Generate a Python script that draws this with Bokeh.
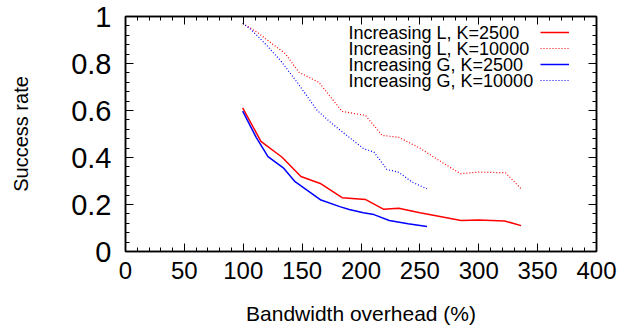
from bokeh.plotting import figure
from bokeh.models import (LinearAxis, SingleIntervalTicker, Range1d, Legend, LegendItem, Label)
from bokeh.embed import file_html
from bokeh.resources import INLINE

# ---- data ----
l2500_x = [99.5, 115, 133, 149, 166, 184, 204, 219, 232, 250, 267, 285, 300, 322, 336]
l2500_y = [0.611, 0.469, 0.401, 0.319, 0.288, 0.229, 0.221, 0.180, 0.184, 0.165, 0.149, 0.132, 0.134, 0.130, 0.110]

l10000_x = [99.6, 111.8, 123, 135.9, 147.2, 164.2, 184, 203.8, 218, 232, 250, 267, 284.5, 300, 322.7, 336]
l10000_y = [0.971, 0.933, 0.890, 0.841, 0.763, 0.720, 0.596, 0.579, 0.494, 0.486, 0.440, 0.385, 0.331, 0.338, 0.335, 0.267]

g2500_x = [99.5, 111, 121, 134, 144, 166, 182, 190, 202, 211, 224, 240, 256]
g2500_y = [0.597, 0.486, 0.404, 0.356, 0.297, 0.219, 0.191, 0.179, 0.165, 0.157, 0.132, 0.118, 0.106]

g10000_x = [99.6, 106, 117.5, 131.6, 145.8, 162.8, 174, 182.6, 195.3, 202.4, 211, 222, 232, 243.5, 256]
g10000_y = [0.971, 0.947, 0.890, 0.813, 0.720, 0.600, 0.550, 0.515, 0.465, 0.437, 0.423, 0.349, 0.337, 0.295, 0.267]

series_labels = ["Increasing L, K=2500", "Increasing L, K=10000",
                 "Increasing G, K=2500", "Increasing G, K=10000"]
x_title = "Bandwidth overhead (%)"
y_title = "Success rate"

FONT = "Liberation Sans"

p = figure(width=634, height=333, output_backend="svg", toolbar_location=None,
           x_range=Range1d(0, 400), y_range=Range1d(0, 1),
           x_axis_type=None, y_axis_type=None,
           min_border_left=125, min_border_right=38, min_border_top=16, min_border_bottom=82)
p.xgrid.visible = False
p.ygrid.visible = False
p.outline_line_color = "black"
p.outline_line_width = 1.5
p.background_fill_color = "white"
p.border_fill_color = "white"

def style_axis(ax, show_labels):
    ax.major_tick_in = 8
    ax.major_tick_out = 0
    ax.minor_tick_in = 4
    ax.minor_tick_out = 0
    ax.axis_line_color = "black"
    ax.axis_line_width = 1.5
    ax.major_tick_line_color = "black"
    ax.minor_tick_line_color = "black"
    ax.major_tick_line_width = 1
    ax.minor_tick_line_width = 1
    ax.major_label_text_color = "black"
    ax.axis_label_text_color = "black"
    if not show_labels:
        ax.major_label_text_font_size = "0px"
        ax.major_label_text_color = None

xt = SingleIntervalTicker(interval=50, num_minor_ticks=5)
yt = SingleIntervalTicker(interval=0.2, num_minor_ticks=5)

xb = LinearAxis(ticker=xt, axis_label=x_title)
style_axis(xb, True)
xb.major_label_text_font = FONT
xb.major_label_text_font_size = "24px"
xb.major_label_standoff = 10
xb.axis_label_text_font = FONT
xb.axis_label_text_font_size = "21px"
xb.axis_label_text_font_style = "normal"
xb.axis_label_standoff = 20
p.add_layout(xb, "below")

yl = LinearAxis(ticker=yt, axis_label=y_title)
style_axis(yl, True)
yl.major_label_text_font = FONT
yl.major_label_text_font_size = "29px"
yl.major_label_standoff = 14
yl.axis_label_text_font = FONT
yl.axis_label_text_font_size = "20px"
yl.axis_label_text_font_style = "normal"
yl.axis_label_standoff = 36
p.add_layout(yl, "left")

xa = LinearAxis(ticker=SingleIntervalTicker(interval=50, num_minor_ticks=5))
style_axis(xa, False)
p.add_layout(xa, "above")

yr = LinearAxis(ticker=SingleIntervalTicker(interval=0.2, num_minor_ticks=5))
style_axis(yr, False)
p.add_layout(yr, "right")

r1 = p.line(l2500_x, l2500_y, line_color="#ff0000", line_width=1.5)
r2 = p.line(l10000_x, l10000_y, line_color="#ff0000", line_width=1.2, line_dash="1 2")
r3 = p.line(g2500_x, g2500_y, line_color="#0000ff", line_width=1.5)
r4 = p.line(g10000_x, g10000_y, line_color="#0000ff", line_width=1.2, line_dash="1 2")

legend = Legend(items=[LegendItem(label="", renderers=[r]) for r in (r1, r2, r3, r4)],
                location=(415, 163), orientation="vertical",
                glyph_width=29, glyph_height=16, label_height=16, label_width=0,
                label_standoff=0, spacing=0, padding=0, margin=0,
                border_line_color=None, background_fill_alpha=0)
legend.label_text_font_size = "1px"
p.add_layout(legend, "center")

# legend texts, left-aligned, one per row (rows 16 px apart)
for i, txt in enumerate(series_labels):
    lab = Label(x=189.4, y=0.931 - i * (16 / 235), text=txt,
                text_font=FONT, text_font_size="18px", text_baseline="middle",
                text_align="left", text_color="black")
    p.add_layout(lab)

open("out.html", "w").write(file_html(p, INLINE))
